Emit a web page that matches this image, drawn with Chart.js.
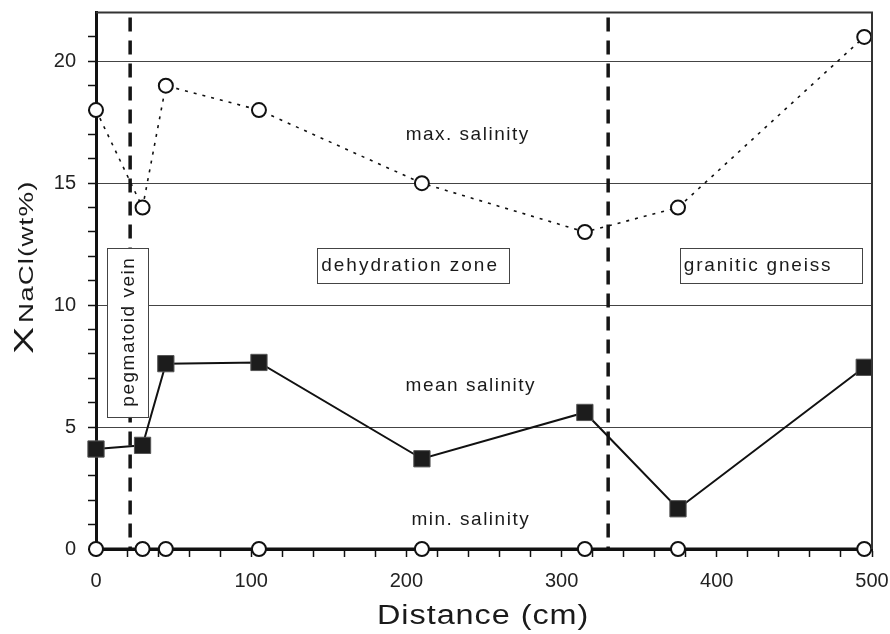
<!DOCTYPE html>
<html>
<head>
<meta charset="utf-8">
<script src="https://cdn.jsdelivr.net/npm/chart.js@4/dist/chart.umd.min.js"></script>
<style>
  body { margin: 0; background: #fff; }
  canvas { display: block; }
</style>
</head>
<body>
<canvas id="chart" width="890" height="634"></canvas>
<script>
// distances along the profile (cm)
const distance = [0, 30, 45, 105, 210, 315, 375, 495];
// salinity, wt% NaCl
const maxSalinity = [18, 14, 19, 18, 15, 13, 14, 21];
const meanSalinity = [4.1, 4.25, 7.6, 7.65, 3.7, 5.6, 1.65, 7.45];
const minSalinity = [0, 0, 0, 0, 0, 0, 0, 0];
// zone boundaries (cm)
const boundaries = [22, 330];
const xTicks = [0, 100, 200, 300, 400, 500];
const yTicks = [0, 5, 10, 15, 20];

const FONT = '"Liberation Sans", Arial, sans-serif';

function pts(ys) {
  return distance.map((d, i) => ({ x: d, y: ys[i] }));
}

function boundaryLine(b) {
  // drawn top-down so the dash pattern starts under the frame
  return {
    data: [{ x: b, y: 21.8 }, { x: b, y: 0 }],
    borderColor: '#151515',
    borderWidth: 3.5,
    borderDash: [14, 9],
    pointRadius: 0,
    showLine: true,
    clip: false
  };
}

function spacedText(ctx, text, x, y, spacing) {
  ctx.letterSpacing = spacing + 'px';
  ctx.fillText(text, x + spacing / 2, y);
  ctx.letterSpacing = '0px';
}

// horizontally stretched text, left aligned at x
function wideText(ctx, text, x, y, sx, spacing) {
  ctx.save();
  ctx.translate(x, y);
  ctx.scale(sx, 1);
  ctx.letterSpacing = spacing + 'px';
  ctx.fillText(text, 0, 0);
  ctx.restore();
}

function box(ctx, cx, cy, w, h) {
  ctx.fillStyle = '#fff';
  ctx.fillRect(cx - w / 2, cy - h / 2, w, h);
  ctx.strokeStyle = '#444';
  ctx.lineWidth = 1;
  ctx.strokeRect(Math.round(cx - w / 2) + 0.5, Math.round(cy - h / 2) + 0.5, w, h);
}

// box with text starting near its left edge
function labelBox(ctx, text, cx, cy, w, h, spacing) {
  box(ctx, cx, cy, w, h);
  ctx.save();
  ctx.fillStyle = '#1a1a1a';
  ctx.textAlign = 'left';
  ctx.letterSpacing = spacing + 'px';
  ctx.fillText(text, cx - w / 2 + 4, cy);
  ctx.restore();
}

const overlay = {
  id: 'overlay',
  afterDatasetsDraw(chart) {
    const { ctx, chartArea: a, scales: { x, y } } = chart;
    ctx.save();
    // top and right frame
    ctx.strokeStyle = '#333';
    ctx.lineWidth = 2;
    ctx.beginPath();
    ctx.moveTo(a.left, a.top);
    ctx.lineTo(a.right, a.top);
    ctx.lineTo(a.right, a.bottom);
    ctx.stroke();

    ctx.fillStyle = '#1a1a1a';
    ctx.textAlign = 'center';
    ctx.textBaseline = 'middle';
    ctx.font = '19px ' + FONT;
    spacedText(ctx, 'max. salinity', x.getPixelForValue(239), y.getPixelForValue(17.0), 1.5);
    spacedText(ctx, 'mean salinity', x.getPixelForValue(241), y.getPixelForValue(6.7), 1.5);
    spacedText(ctx, 'min. salinity', x.getPixelForValue(241), y.getPixelForValue(1.2), 1.5);

    // zone boxes
    const cy = y.getPixelForValue(11.63);
    labelBox(ctx, 'dehydration zone', x.getPixelForValue(204.4), cy, 192, 35, 2);
    labelBox(ctx, 'granitic gneiss', x.getPixelForValue(434.8), cy, 182, 35, 1.8);

    const px = x.getPixelForValue(20.3), py = y.getPixelForValue(8.88);
    box(ctx, px, py, 41, 169);
    ctx.save();
    ctx.translate(px, py);
    ctx.rotate(-Math.PI / 2);
    ctx.fillStyle = '#1a1a1a';
    spacedText(ctx, 'pegmatoid vein', 0, 1, 1.5);
    ctx.restore();

    // x axis title
    ctx.fillStyle = '#1a1a1a';
    ctx.textAlign = 'left';
    ctx.textBaseline = 'alphabetic';
    ctx.font = '27px ' + FONT;
    wideText(ctx, 'Distance (cm)', 377, 624, 1.2, 0.8);

    // y axis title: X with subscript NaCl(wt%)
    ctx.save();
    ctx.translate(33, 0);
    ctx.rotate(-Math.PI / 2);
    ctx.font = '28px ' + FONT;
    wideText(ctx, 'X', -354, 0, 1.45, 0);
    ctx.font = '19.5px ' + FONT;
    wideText(ctx, 'NaCl(wt%)', -323, 0, 1.42, 0.8);
    ctx.restore();
    ctx.restore();
  }
};

new Chart(document.getElementById('chart'), {
  type: 'scatter',
  data: {
    datasets: [
      {
        label: 'max. salinity',
        data: pts(maxSalinity),
        showLine: true,
        borderColor: '#111',
        borderWidth: 1.6,
        borderDash: [3, 6],
        pointStyle: 'circle',
        pointRadius: 7,
        pointBorderWidth: 2,
        pointBackgroundColor: '#fff',
        pointBorderColor: '#111',
        clip: false
      },
      {
        label: 'mean salinity',
        data: pts(meanSalinity),
        showLine: true,
        borderColor: '#111',
        borderWidth: 2,
        pointStyle: 'rect',
        pointRadius: 11.5,
        pointBorderWidth: 1,
        pointBackgroundColor: '#1c1c1c',
        pointBorderColor: '#555',
        clip: false
      },
      {
        label: 'min. salinity',
        data: pts(minSalinity),
        showLine: true,
        borderColor: '#111',
        borderWidth: 3,
        pointStyle: 'circle',
        pointRadius: 7,
        pointBorderWidth: 2,
        pointBackgroundColor: '#fff',
        pointBorderColor: '#111',
        clip: false
      },
      boundaryLine(boundaries[0]),
      boundaryLine(boundaries[1])
    ]
  },
  options: {
    responsive: false,
    animation: false,
    layout: { padding: { top: 10, right: 18, left: 0, bottom: 0 } },
    plugins: { legend: { display: false }, tooltip: { enabled: false } },
    scales: {
      x: {
        type: 'linear',
        min: 0,
        max: 500,
        afterFit: s => { s.height = 85; s.paddingLeft = 0; s.paddingRight = 0; },
        afterBuildTicks: s => { s.ticks = []; for (let v = 0; v <= 500; v += 20) s.ticks.push({ value: v }); },
        ticks: {
          autoSkip: false,
          maxRotation: 0,
          padding: 12,
          color: '#222',
          font: { size: 20, family: FONT },
          callback: v => xTicks.includes(v) ? v : ''
        },
        grid: {
          drawOnChartArea: false,
          tickLength: 8,
          tickColor: '#111',
          tickWidth: 1.5
        },
        border: { color: '#111', width: 3 }
      },
      y: {
        type: 'linear',
        min: 0,
        max: 22,
        afterFit: s => { s.width = 96; s.paddingTop = 0; s.paddingBottom = 0; },
        afterBuildTicks: s => { s.ticks = []; for (let v = 0; v <= 21; v += 1) s.ticks.push({ value: v }); },
        ticks: {
          autoSkip: false,
          padding: 12,
          color: '#222',
          font: { size: 20, family: FONT },
          callback: v => yTicks.includes(v) ? v : ''
        },
        grid: {
          color: c => (c.tick && c.tick.value % 5 === 0 && c.tick.value > 0) ? '#444' : 'rgba(0,0,0,0)',
          lineWidth: 1,
          tickLength: 8,
          tickColor: '#111',
          tickWidth: 1.5
        },
        border: { color: '#111', width: 3 }
      }
    }
  },
  plugins: [overlay]
});
</script>
</body>
</html>
